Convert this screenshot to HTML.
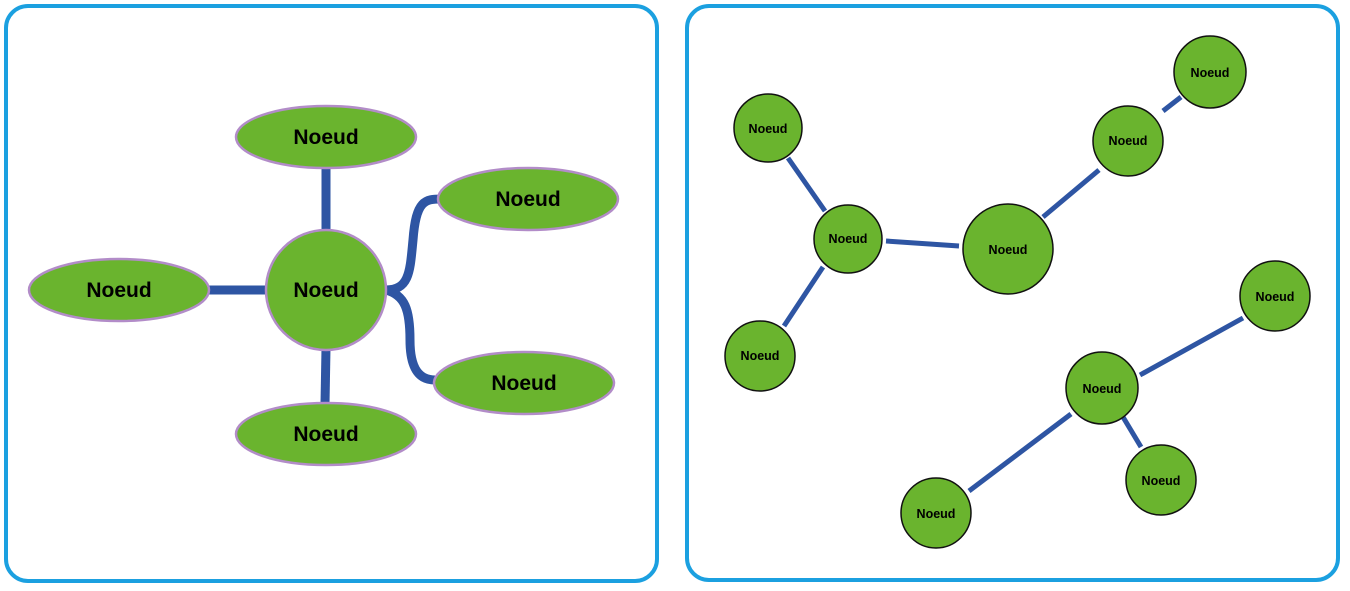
<!DOCTYPE html>
<html><head><meta charset="utf-8"><style>html,body{margin:0;padding:0;background:#fff;width:1350px;height:591px;overflow:hidden}</style></head>
<body>
<svg width="1350" height="591" viewBox="0 0 1350 591" xmlns="http://www.w3.org/2000/svg" font-family="Liberation Sans, DejaVu Sans, sans-serif" font-weight="bold">
<rect x="6" y="6" width="651" height="575" rx="22" fill="#fff" stroke="#1ba0e0" stroke-width="4"/>
<rect x="687" y="6" width="651" height="574" rx="22" fill="#fff" stroke="#1ba0e0" stroke-width="4"/>
<g stroke="#2e55a3" stroke-width="9" fill="none">
<line x1="326" y1="165" x2="326" y2="232"/>
<line x1="326" y1="348" x2="325" y2="404"/>
<line x1="205" y1="290" x2="268" y2="290"/>
<path d="M386 290 C410 290 410 270 413 240 C416 200 425 199 442 199"/>
<path d="M386 290 C405 295 410 310 410 340 C410 370 420 380 435 380"/>
</g>
<g fill="#6ab42e" stroke="#b28cc8" stroke-width="2.5">
<ellipse cx="326" cy="137" rx="90" ry="31"/>
<ellipse cx="528" cy="199" rx="90" ry="31"/>
<ellipse cx="119" cy="290" rx="90" ry="31"/>
<ellipse cx="524" cy="383" rx="90" ry="31"/>
<ellipse cx="326" cy="434" rx="90" ry="31"/>
<circle cx="326" cy="290" r="60"/>
</g>
<g font-size="21" text-anchor="middle" fill="#000">
<text x="326" y="144">Noeud</text>
<text x="528" y="206">Noeud</text>
<text x="119" y="297">Noeud</text>
<text x="524" y="390">Noeud</text>
<text x="326" y="441">Noeud</text>
<text x="326" y="297">Noeud</text>
</g>
<g stroke="#2e55a3" stroke-width="5">
<line x1="788" y1="158" x2="825" y2="211"/>
<line x1="823" y1="267" x2="784" y2="326"/>
<line x1="886" y1="241" x2="959" y2="246"/>
<line x1="1043" y1="217" x2="1099" y2="170"/>
<line x1="1163" y1="111" x2="1181" y2="97"/>
<line x1="1140" y1="375" x2="1243" y2="318"/>
<line x1="1123" y1="417" x2="1141" y2="447"/>
<line x1="1071" y1="414" x2="969" y2="491"/>
</g>
<g fill="#6ab42e" stroke="#111" stroke-width="1.5">
<circle cx="768" cy="128" r="34"/>
<circle cx="848" cy="239" r="34"/>
<circle cx="760" cy="356" r="35"/>
<circle cx="1008" cy="249" r="45"/>
<circle cx="1128" cy="141" r="35"/>
<circle cx="1210" cy="72" r="36"/>
<circle cx="1275" cy="296" r="35"/>
<circle cx="1102" cy="388" r="36"/>
<circle cx="1161" cy="480" r="35"/>
<circle cx="936" cy="513" r="35"/>
</g>
<g font-size="12.5" text-anchor="middle" fill="#000">
<text x="768" y="133">Noeud</text>
<text x="848" y="243">Noeud</text>
<text x="760" y="360">Noeud</text>
<text x="1008" y="254">Noeud</text>
<text x="1128" y="145">Noeud</text>
<text x="1210" y="77">Noeud</text>
<text x="1275" y="301">Noeud</text>
<text x="1102" y="393">Noeud</text>
<text x="1161" y="485">Noeud</text>
<text x="936" y="518">Noeud</text>
</g>
</svg>
</body></html>
